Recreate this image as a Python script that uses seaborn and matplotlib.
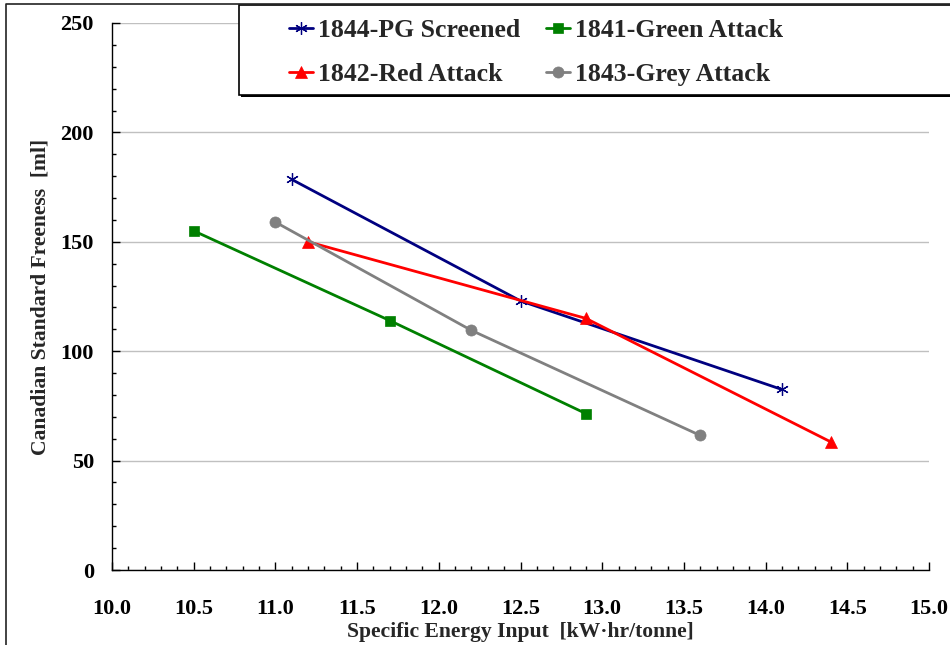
import matplotlib
matplotlib.use("Agg")
import matplotlib.pyplot as plt
import seaborn as sns
import pandas as pd
from matplotlib.lines import Line2D
from matplotlib.patches import Rectangle
from matplotlib.ticker import MultipleLocator, FixedLocator, FormatStrFormatter

# Refining trials: freeness versus specific energy
pg_energy = [11.1, 12.5, 14.1]
pg_freeness = [178.5, 123.0, 82.5]
red_energy = [11.2, 12.9, 14.4]
red_freeness = [150.0, 115.0, 58.5]
green_energy = [10.5, 11.7, 12.9]
green_freeness = [155.0, 114.0, 71.5]
grey_energy = [11.0, 12.2, 13.6]
grey_freeness = [159.0, 109.5, 61.5]

series_names = ["1844-PG Screened", "1842-Red Attack",
                "1841-Green Attack", "1843-Grey Attack"]
x_ticks = [10.0, 10.5, 11.0, 11.5, 12.0, 12.5, 13.0, 13.5, 14.0, 14.5, 15.0]
y_ticks = [0, 50, 100, 150, 200, 250]

frames = []
for name, xs, ys in zip(series_names,
                        [pg_energy, red_energy, green_energy, grey_energy],
                        [pg_freeness, red_freeness, green_freeness, grey_freeness]):
    frames.append(pd.DataFrame({"series": name, "energy": xs, "freeness": ys}))
df = pd.concat(frames, ignore_index=True)

sns.set_style("white")
plt.rcParams["font.family"] = ["Liberation Serif", "DejaVu Serif"]
plt.rcParams["font.weight"] = "bold"
plt.rcParams.update({
    "xtick.direction": "in", "ytick.direction": "in",
    "xtick.bottom": True, "ytick.left": True,
    "xtick.top": False, "ytick.right": False,
    "xtick.color": "black", "ytick.color": "black",
    "xtick.major.size": 5.5, "ytick.major.size": 5.5,
    "xtick.minor.size": 3, "ytick.minor.size": 3,
    "xtick.major.width": 1.0, "ytick.major.width": 1.0,
    "xtick.minor.width": 1.0, "ytick.minor.width": 1.0,
    "xtick.minor.visible": True, "ytick.minor.visible": True,
})

W, H = 950, 645
fig = plt.figure(figsize=(W / 100, H / 100), dpi=100)
ax = fig.add_axes([112 / W, 1 - 570 / H, (929 - 112) / W, (570 - 23) / H])

styles = {
    "1844-PG Screened": dict(color="#000080", marker=(6, 2, 0), markersize=9,
                             markeredgewidth=0.9, markerfacecolor="#000080",
                             markeredgecolor="#000080"),
    "1842-Red Attack": dict(color="#FF0000", marker="^", markersize=9,
                            markeredgewidth=0.5, markerfacecolor="#FF0000",
                            markeredgecolor="#FF0000"),
    "1841-Green Attack": dict(color="#008000", marker="s", markersize=7.5,
                              markeredgewidth=0.5, markerfacecolor="#008000",
                              markeredgecolor="#008000"),
    "1843-Grey Attack": dict(color="#808080", marker="o", markersize=8,
                             markeredgewidth=0.5, markerfacecolor="#808080",
                             markeredgecolor="#808080"),
}

for name in series_names:
    sub = df[df["series"] == name]
    sns.lineplot(data=sub, x="energy", y="freeness", ax=ax, sort=False,
                 errorbar=None, linewidth=2.0, label=name, clip_on=False,
                 zorder=3, **styles[name])

ax.set_xlim(10.0, 15.0)
ax.set_ylim(0, 250)
ax.xaxis.set_major_locator(FixedLocator(x_ticks))
ax.xaxis.set_major_formatter(FormatStrFormatter("%.1f"))
ax.xaxis.set_minor_locator(MultipleLocator(0.1))
ax.yaxis.set_major_locator(FixedLocator(y_ticks))
ax.yaxis.set_minor_locator(MultipleLocator(10))

for side in ("top", "right"):
    ax.spines[side].set_visible(False)
for side in ("left", "bottom"):
    ax.spines[side].set_color("black")
    ax.spines[side].set_linewidth(1.0)

ax.grid(axis="y", which="major", color="#c0c0c0", linewidth=1.0)
ax.grid(axis="x", visible=False)
ax.set_axisbelow(True)

ax.tick_params(axis="both", which="both", direction="in")
ax.tick_params(axis="both", which="major", labelsize=16)
ax.tick_params(axis="x", which="major", pad=21)
ax.tick_params(axis="y", which="major", pad=13)
for lab in ax.get_xticklabels() + ax.get_yticklabels():
    lab.set_fontweight("bold")

ax.set_xlabel("Specific Energy Input  [kW\u00b7hr/tonne]", fontsize=15.6,
              fontweight="bold", labelpad=2)
ax.set_ylabel("Canadian Standard Freeness  [ml]", fontsize=15.6,
              fontweight="bold", labelpad=7)

# legend: framed box with a drop shadow, entries laid out in two columns
handles, labels = ax.get_legend_handles_labels()
if ax.get_legend() is not None:
    ax.get_legend().remove()
box_l, box_t, box_r, box_b = 239, 5, 965, 95
fig.add_artist(Rectangle(((box_l + 2) / W, 1 - (box_b + 2) / H),
                         (box_r - box_l) / W, (box_b - box_t) / H,
                         transform=fig.transFigure, facecolor="black",
                         edgecolor="black", linewidth=0, zorder=5))
fig.add_artist(Rectangle((box_l / W, 1 - box_b / H),
                         (box_r - box_l) / W, (box_b - box_t) / H,
                         transform=fig.transFigure, facecolor="white",
                         edgecolor="black", linewidth=1.2, zorder=6))
leg = fig.legend(handles, labels, ncol=2, loc="upper left",
                 bbox_to_anchor=(289 / W, 1 - 19 / H), frameon=False,
                 prop={"family": ["Liberation Serif", "DejaVu Serif"],
                       "weight": "bold", "size": 18.5},
                 handlelength=0.93, handletextpad=0.2, columnspacing=1.0,
                 labelspacing=0.82, borderpad=0, borderaxespad=0)
leg.set_zorder(7)

# outer frame of the figure
fig.add_artist(Line2D([6 / W, 6 / W, 1.0], [0.0, 1 - 4 / H, 1 - 4 / H],
                      transform=fig.transFigure, color="#222222",
                      linewidth=1.2, zorder=8))

fig.savefig("out.png", dpi=100)
